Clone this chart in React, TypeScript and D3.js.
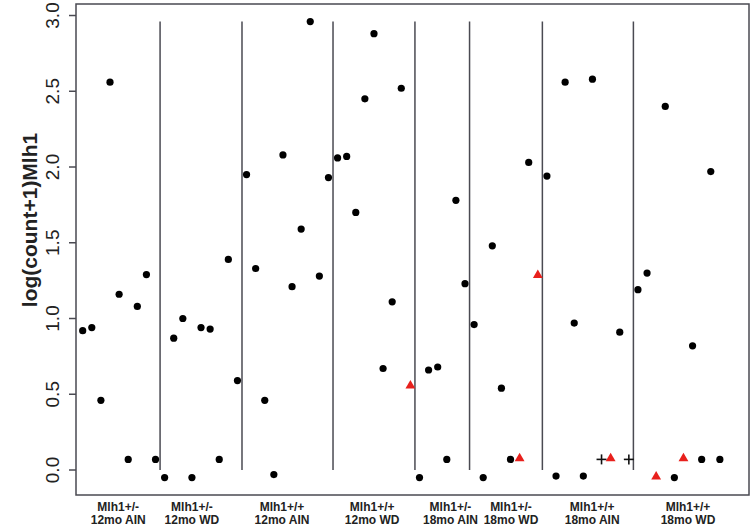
import React from "react";
import * as d3 from "d3";

// Group labels (two lines each) and number of samples per group
const groupLine1 = ["Mlh1+/-", "Mlh1+/-", "Mlh1+/+", "Mlh1+/+", "Mlh1+/-", "Mlh1+/-", "Mlh1+/+", "Mlh1+/+"];
const groupLine2 = ["12mo AIN", "12mo WD", "12mo AIN", "12mo WD", "18mo AIN", "18mo WD", "18mo AIN", "18mo WD"];
const groupSizes = [9, 9, 10, 9, 6, 8, 10, 10];
// sample-index position where each group label is centred
const groupLabelAt = [3.9, 12.0, 21.9, 31.8, 40.4, 47.05, 55.97, 66.5];

// log(count+1) Mlh1 per sample, in plotting order
const values = [
  // Mlh1+/- 12mo AIN
  0.92, 0.94, 0.46, 2.56, 1.16, 0.07, 1.08, 1.29, 0.07,
  // Mlh1+/- 12mo WD
  -0.05, 0.87, 1.0, -0.05, 0.94, 0.93, 0.07, 1.39, 0.59,
  // Mlh1+/+ 12mo AIN
  1.95, 1.33, 0.46, -0.03, 2.08, 1.21, 1.59, 2.96, 1.28, 1.93,
  // Mlh1+/+ 12mo WD
  2.06, 2.07, 1.7, 2.45, 2.88, 0.67, 1.11, 2.52, 0.56,
  // Mlh1+/- 18mo AIN
  -0.05, 0.66, 0.68, 0.07, 1.78, 1.23,
  // Mlh1+/- 18mo WD
  0.96, -0.05, 1.48, 0.54, 0.07, 0.08, 2.03, 1.29,
  // Mlh1+/+ 18mo AIN
  1.94, -0.04, 2.56, 0.97, -0.04, 2.58, 0.07, 0.08, 0.91, 0.07,
  // Mlh1+/+ 18mo WD
  1.19, 1.3, -0.04, 2.4, -0.05, 0.08, 0.82, 0.07, 1.97, 0.07,
];
// marker type per sample: c = circle, t = red triangle, p = plus
const markers = [
  "c","c","c","c","c","c","c","c","c",
  "c","c","c","c","c","c","c","c","c",
  "c","c","c","c","c","c","c","c","c","c",
  "c","c","c","c","c","c","c","c","t",
  "c","c","c","c","c","c",
  "c","c","c","c","c","t","c","t",
  "c","c","c","c","c","c","p","t","c","p",
  "c","c","t","c","c","t","c","c","c","c",
];
const yTicks = [0, 0.5, 1, 1.5, 2, 2.5, 3];

const W = 752, H = 526;
const left = 76, right = 749, top = 4, bottom = 495;

export default function App() {
  const x = d3.scaleLinear().domain([-0.736, 73.2]).range([left, right]);
  const y = d3.scaleLinear().domain([-0.165, 3.076]).range([bottom, top]);
  const maxV = d3.max(values) as number;

  // divider positions between groups
  const bounds: number[] = [];
  let acc = 0;
  groupSizes.forEach((n, i) => {
    acc += n;
    if (i < groupSizes.length - 1) bounds.push(acc - 0.5);
  });

  const tri = d3.symbol().type(d3.symbolTriangle).size(42)();
  const lineColor = "#4a4a52";

  return (
    <svg width={W} height={H} style={{ position: "absolute", left: 0, top: 0, background: "#fff" }}
      fontFamily="'Liberation Sans', Arial, sans-serif">
      <rect x={0} y={0} width={W} height={H} fill="#fff" />
      {/* plot box */}
      <rect x={left} y={top} width={right - left} height={bottom - top} fill="none" stroke={lineColor} strokeWidth={1.5} />
      {/* y axis ticks */}
      {yTicks.map((t) => (
        <g key={t}>
          <line x1={left - 7} x2={left} y1={y(t)} y2={y(t)} stroke={lineColor} strokeWidth={1.5} />
          <text transform={`translate(58.5,${y(t)}) rotate(-90)`} textAnchor="middle" fontSize={19} fill="#222">
            {t.toFixed(1)}
          </text>
        </g>
      ))}
      <text transform={`translate(37,220) rotate(-90)`} textAnchor="middle" fontSize={21} fontWeight="bold" fill="#222">
        log(count+1)Mlh1
      </text>
      {/* group dividers */}
      {bounds.map((b) => (
        <line key={b} x1={x(b)} x2={x(b)} y1={y(0)} y2={y(maxV)} stroke={lineColor} strokeWidth={1.5} />
      ))}
      {/* group labels */}
      {groupLine1.map((g, i) => (
        <text key={i} x={x(groupLabelAt[i])} textAnchor="middle" fontSize={12} fontWeight="bold" fill="#222">
          <tspan x={x(groupLabelAt[i])} y={511}>{g}</tspan>
          <tspan x={x(groupLabelAt[i])} y={524}>{groupLine2[i]}</tspan>
        </text>
      ))}
      {/* points */}
      {values.map((v, i) => {
        const cx = x(i), cy = y(v);
        const m = markers[i];
        if (m === "t") return <path key={i} d={tri as string} transform={`translate(${cx},${cy + 0.5})`} fill="#e8201c" />;
        if (m === "p")
          return (
            <g key={i} stroke="#111" strokeWidth={1.6}>
              <line x1={cx - 5} x2={cx + 5} y1={cy} y2={cy} />
              <line x1={cx} x2={cx} y1={cy - 5} y2={cy + 5} />
            </g>
          );
        return <circle key={i} cx={cx} cy={cy} r={3.6} fill="#000" />;
      })}
    </svg>
  );
}
